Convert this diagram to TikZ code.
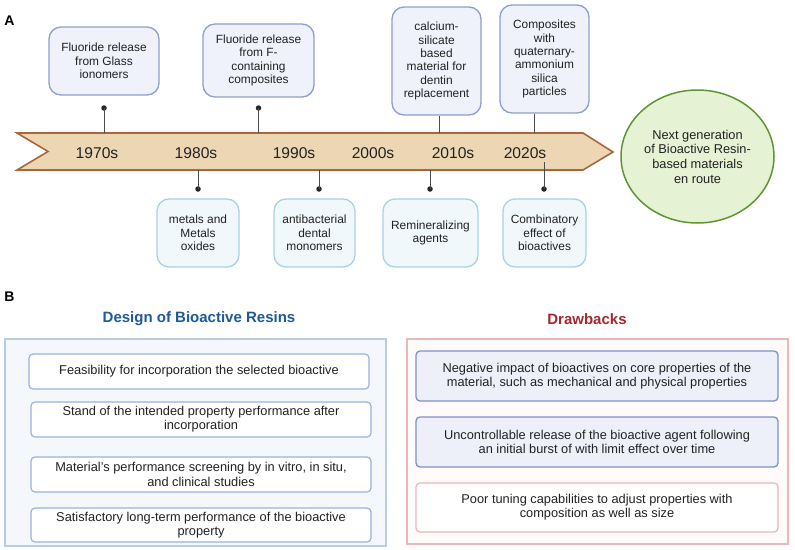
\documentclass[tikz,border=0pt]{standalone}
\usepackage{fontspec}
\setmainfont{Liberation Sans}
\usetikzlibrary{shapes.geometric}
\definecolor{tanfill}{HTML}{EDD6B4}
\definecolor{tanline}{HTML}{A8673A}
\definecolor{topline}{HTML}{8E9ECF}
\definecolor{topfill}{HTML}{EFF2FB}
\definecolor{botline}{HTML}{A8D3DF}
\definecolor{botfill}{HTML}{F0F8FC}
\definecolor{circfill}{HTML}{E6F2D4}
\definecolor{circline}{HTML}{5E9534}
\definecolor{lpline}{HTML}{B8CCE2}
\definecolor{lpfill}{HTML}{F4F8FC}
\definecolor{lbline}{HTML}{9DB0E0}
\definecolor{rpline}{HTML}{E9B8BC}
\definecolor{rpfill}{HTML}{FFFBFB}
\definecolor{dbfill}{HTML}{EDF0F9}
\definecolor{dbline}{HTML}{7E91C7}
\definecolor{ttblue}{HTML}{1E5A97}
\definecolor{ttred}{HTML}{A4282B}
\definecolor{txt}{HTML}{222222}
\begin{document}
\begin{tikzpicture}[x=1pt,y=-1pt,
  every node/.style={text=txt},
  lbl/.style={font=\fontsize{11.9}{13.3}\selectfont, align=center, inner sep=0pt},
  topbox/.style={lbl, draw=topline, fill=topfill, line width=1.3pt, rounded corners=12pt},
  botbox/.style={lbl, draw=botline, fill=botfill, line width=1.3pt, rounded corners=12pt},
  dotmark/.style={circle, fill=black!85, inner sep=0pt, minimum size=5.5pt},
  stem/.style={draw=black!70, line width=1pt},
  year/.style={font=\fontsize{15.6}{17}\selectfont, inner sep=0pt},
  banner/.style={draw=tanline, fill=tanfill, line width=1.6pt},
  blbl/.style={font=\fontsize{12.8}{14.3}\selectfont, align=center, inner sep=0pt},
  lbox/.style={blbl, draw=lbline, fill=white, line width=1.2pt, rounded corners=4pt, minimum width=340pt, minimum height=35pt},
  dbox/.style={blbl, draw=dbline, fill=dbfill, line width=1.3pt, rounded corners=4pt, minimum width=362pt, minimum height=50pt},
  pbox/.style={blbl, draw=rpline, fill=white, line width=1.3pt, rounded corners=4pt, minimum width=362pt, minimum height=49pt},
  ttl/.style={font=\fontsize{15}{17}\selectfont\bfseries, inner sep=0pt},
  panel/.style={font=\fontsize{14}{16}\selectfont\bfseries, text=black, inner sep=0pt}
]
\useasboundingbox (0,0) rectangle (795,549);

% Part A
\node[panel] (la) at (9.5,20.5) {A};

\draw[banner] (17,133) -- (583,133) -- (613,152) -- (583,170) -- (17,170) -- (48,151.5) -- cycle;

\node[year] (y70) at (97,153) {1970s};
\node[year] (y80) at (196,153) {1980s};
\node[year] (y90) at (294,153) {1990s};
\node[year] (y00) at (373,153) {2000s};
\node[year] (y10) at (453,153) {2010s};
\node[year] (y20) at (525,153) {2020s};

% top boxes
\node[topbox, minimum width=110pt, minimum height=68pt] (b1) at (104,61) {Fluoride release\\from Glass\\ionomers};
\node[topbox, minimum width=111pt, minimum height=73pt] (b2) at (258.5,60.5) {Fluoride release\\from F-\\containing\\composites};
\node[topbox, minimum width=89pt, minimum height=108pt] (b3) at (436.5,61) {calcium-\\silicate\\based\\material for\\dentin\\replacement};
\node[topbox, minimum width=89pt, minimum height=108pt] (b4) at (544.5,59) {Composites\\with\\quaternary-\\ammonium\\silica\\particles};

\coordinate (t1) at (104,133);
\coordinate (t2) at (258.5,133);
\coordinate (t3) at (439,133);
\coordinate (t4) at (534,133);
\node[dotmark] (d1) at (104,108) {};
\node[dotmark] (d2) at (258.5,108) {};
\draw[stem] (d1.center) -- (t1);
\draw[stem] (d2.center) -- (t2);
\draw[stem] (b3.south -| t3) -- (t3);
\draw[stem] (b4.south -| t4) -- (t4);

% bottom boxes
\node[botbox, minimum width=82pt, minimum height=68pt] (b5) at (198,233) {metals and\\Metals\\oxides};
\node[botbox, minimum width=81pt, minimum height=68pt] (b6) at (314.5,233) {antibacterial\\dental\\monomers};
\node[botbox, minimum width=95pt, minimum height=68pt] (b7) at (430.5,233) {Remineralizing\\agents};
\node[botbox, minimum width=83pt, minimum height=68pt] (b8) at (544.5,233) {Combinatory\\effect of\\bioactives};

\coordinate (u5) at (198,170);
\coordinate (u6) at (319,170);
\coordinate (u7) at (430,170);
\coordinate (u8) at (544,162);
\node[dotmark] (d5) at (198,189) {};
\node[dotmark] (d6) at (319,189) {};
\node[dotmark] (d7) at (430,189) {};
\node[dotmark] (d8) at (544,189) {};
\draw[stem] (d5.center) -- (u5);
\draw[stem] (d6.center) -- (u6);
\draw[stem] (d7.center) -- (u7);
\draw[stem] (d8.center) -- (u8);

\node[ellipse, draw=circline, fill=circfill, line width=1.5pt, minimum width=153pt, minimum height=133pt,
  font=\fontsize{12.8}{14.7}\selectfont, align=center, inner sep=0pt] (next) at (697.5,156.5)
  {Next generation\\of Bioactive Resin-\\based materials\\en route};

% Part B
\node[panel] (lb) at (9.5,297) {B};

\node[ttl, text=ttblue] (tl) at (199,319) {Design of Bioactive Resins};
\node[ttl, text=ttred] (tr) at (587,319) {Drawbacks};

\node[draw=lpline, fill=lpfill, line width=1.3pt, minimum width=381pt, minimum height=207pt, inner sep=0pt] (lp) at (195.5,442.5) {};
\node[draw=rpline, fill=rpfill, line width=1.3pt, minimum width=381pt, minimum height=205pt, inner sep=0pt] (rp) at (597.5,441.5) {};

\node[lbox] (l1) at (199,371.5) {Feasibility for incorporation the selected bioactive};
\node[lbox] (l2) at (201,419.5) {Stand of the intended property performance after\\incorporation};
\node[lbox] (l3) at (201,474.5) {Material's performance screening by in vitro, in situ,\\and clinical studies};
\node[lbox, minimum height=34pt] (l4) at (201,525) {Satisfactory long-term performance of the bioactive\\property};

\node[dbox] (r1) at (597,376) {Negative impact of bioactives on core properties of the\\material, such as mechanical and physical properties};
\node[dbox] (r2) at (597,442) {Uncontrollable release of the bioactive agent following\\an initial burst of with limit effect over time};
\node[pbox] (r3) at (597,507.5) {Poor tuning capabilities to adjust properties with\\composition as well as size};
\end{tikzpicture}
\end{document}
